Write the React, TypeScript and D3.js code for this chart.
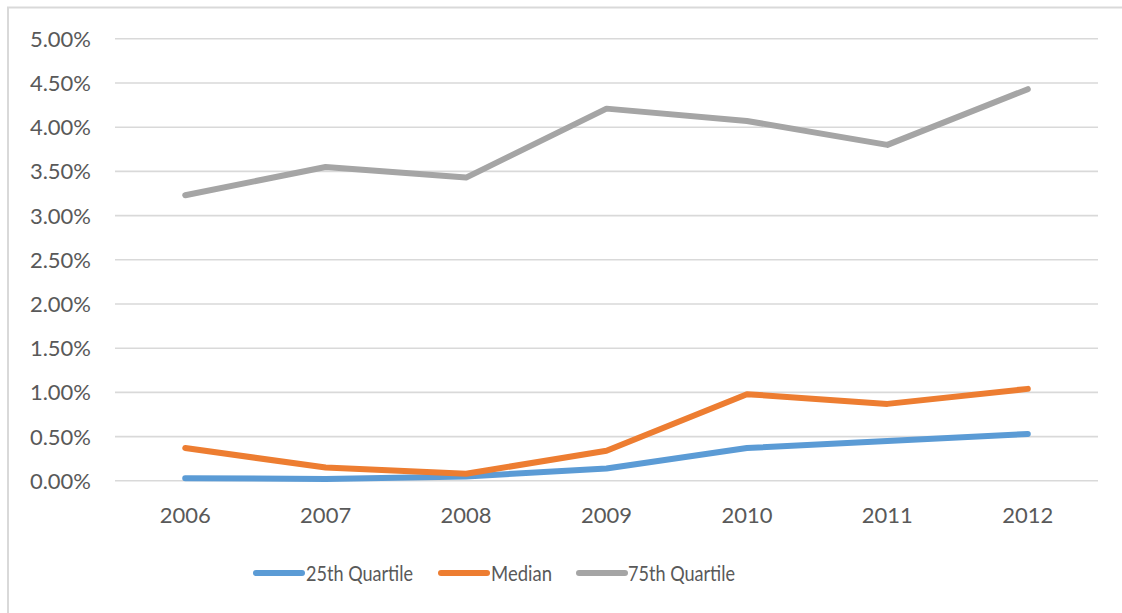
import React, { useEffect } from "react";
import * as d3 from "d3";

const years = ["2006", "2007", "2008", "2009", "2010", "2011", "2012"];
const q25 = [0.0003, 0.0002, 0.0005, 0.0014, 0.0037, 0.0045, 0.0053];
const median = [0.0037, 0.0015, 0.0008, 0.0034, 0.0098, 0.0087, 0.0104];
const q75 = [0.0323, 0.0355, 0.0343, 0.0421, 0.0407, 0.0380, 0.0443];
const yTicks = [0, 0.005, 0.01, 0.015, 0.02, 0.025, 0.03, 0.035, 0.04, 0.045, 0.05];

const seriesNames = ["25th Quartile", "Median", "75th Quartile"];
const seriesColors = ["#5B9BD5", "#ED7D31", "#A5A5A5"];

const W = 1122;
const H = 613;
const plotLeft = 115;
const plotRight = 1098;
const plotTop = 38.8;
const plotBottom = 480.8;
const font = "Lato, 'Open Sans', sans-serif";
const textColor = "#595959";

export default function App() {
  useEffect(() => {
    document.body.style.margin = "0";
    document.body.style.overflow = "hidden";
    document.documentElement.style.overflow = "hidden";
  }, []);

  const x = d3.scaleBand<string>().domain(years).range([plotLeft, plotRight]);
  const y = d3.scaleLinear().domain([0, 0.05]).range([plotBottom, plotTop]);
  const fmt = d3.format(".2%");
  const line = d3
    .line<number>()
    .x((_, i) => (x(years[i]) as number) + x.bandwidth() / 2)
    .y((v) => y(v));

  const series = [q25, median, q75];

  // legend layout: swatch start, label start, label width
  const legendItems = [
    { lineX: 256, textX: 306, textW: 107 },
    { lineX: 441, textX: 491, textW: 61 },
    { lineX: 579, textX: 628, textW: 107 },
  ];
  const legendY = 573;

  return (
    <svg
      width={W}
      height={H}
      style={{ position: "absolute", left: 0, top: 0, display: "block", overflow: "hidden" }}
    >
      <rect x={0} y={0} width={W} height={H} fill="#fff" />
      {/* chart frame, open to the right and bottom */}
      <path
        d={`M8,${H + 5}V7.5H${W + 5}`}
        fill="none"
        stroke="#D9D9D9"
        strokeWidth={2}
      />
      {/* gridlines */}
      {yTicks.map((t) => (
        <line
          key={t}
          x1={plotLeft}
          x2={plotRight}
          y1={y(t)}
          y2={y(t)}
          stroke="#D9D9D9"
          strokeWidth={1.6}
        />
      ))}
      {/* y tick labels */}
      {yTicks.map((t) => (
        <text
          key={"l" + t}
          x={91}
          y={y(t)}
          dy="0.36em"
          textAnchor="end"
          fontFamily={font}
          fontSize={22}
          fill={textColor}
        >
          {fmt(t)}
        </text>
      ))}
      {/* x tick labels */}
      {years.map((yr) => (
        <text
          key={yr}
          x={(x(yr) as number) + x.bandwidth() / 2}
          y={515}
          dy="0.36em"
          textAnchor="middle"
          fontFamily={font}
          fontSize={22}
          fill={textColor}
        >
          {yr}
        </text>
      ))}
      {/* series lines */}
      {series.map((s, i) => (
        <path
          key={seriesNames[i]}
          d={line(s) || ""}
          fill="none"
          stroke={seriesColors[i]}
          strokeWidth={6}
          strokeLinecap="round"
          strokeLinejoin="round"
        />
      ))}
      {/* legend */}
      {legendItems.map((it, i) => (
        <g key={"lg" + i}>
          <line
            x1={it.lineX}
            x2={it.lineX + 46}
            y1={legendY}
            y2={legendY}
            stroke={seriesColors[i]}
            strokeWidth={6}
            strokeLinecap="round"
          />
          <text
            x={it.textX}
            y={legendY}
            dy="0.36em"
            fontFamily={font}
            fontSize={22}
            fill={textColor}
            textLength={it.textW}
            lengthAdjust="spacingAndGlyphs"
          >
            {seriesNames[i]}
          </text>
        </g>
      ))}
    </svg>
  );
}
